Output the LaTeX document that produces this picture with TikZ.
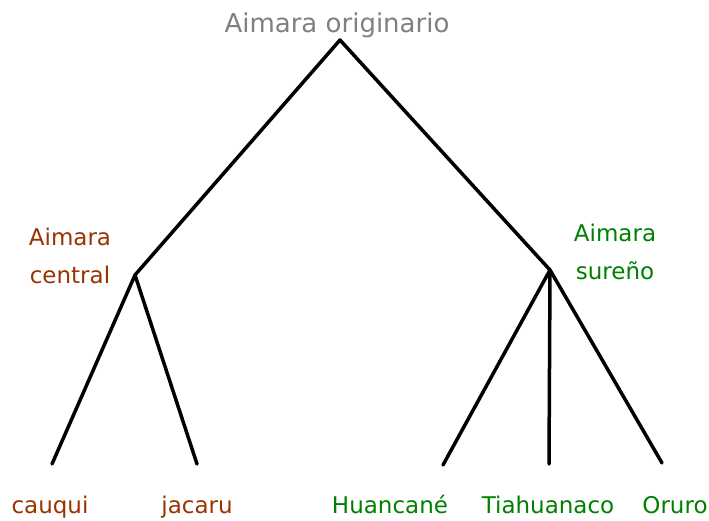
\documentclass[tikz,border=0pt]{standalone}
\usepackage{fontspec}
\setmainfont{DejaVu Sans}
\definecolor{lblgray}{RGB}{128,128,128}
\definecolor{lblbrown}{RGB}{153,51,0}
\definecolor{lblgreen}{RGB}{0,128,0}
\begin{document}
\begin{tikzpicture}[x=1pt,y=1pt,
  branch/.style={line width=3.5pt,black,line cap=round,line join=round},
  lbl/.style={inner sep=0pt,font=\fontsize{23}{38}\selectfont,align=center},
  leaflbl/.style={lbl,anchor=base}]
\useasboundingbox (0,0) rectangle (709,520);
% junctions and leaf ends
\coordinate (root) at (340,480);
\coordinate (central) at (135,245);
\coordinate (sur) at (550,250);
\coordinate (e1) at (52,56);
\coordinate (e2) at (197,56);
\coordinate (e3) at (443,55);
\coordinate (e4) at (549,56);
\coordinate (e5) at (662,57);
% labels
\node[lbl,text=lblgray,font=\fontsize{26}{30}\selectfont] (tRoot) at (337,495) {Aimara originario};
\node[lbl,text=lblbrown] (tCentral) at (70,264) {Aimara\\central};
\node[lbl,text=lblgreen] (tSur) at (615,268) {Aimara\\sureño};
\node[leaflbl,text=lblbrown] (tCauqui) at (50,7) {cauqui};
\node[leaflbl,text=lblbrown] (tJacaru) at (197,7) {jacaru};
\node[leaflbl,text=lblgreen] (tHuancane) at (390,7) {Huancané};
\node[leaflbl,text=lblgreen] (tTiahuanaco) at (548,7) {Tiahuanaco};
\node[leaflbl,text=lblgreen] (tOruro) at (675,7) {Oruro};
% branches
\draw[branch] (central) -- (root) -- (sur);
\draw[branch] (e1) -- (central) -- (e2);
\draw[branch] (e3) -- (sur) -- (e5);
\draw[branch] (sur) -- (e4);
\end{tikzpicture}
\end{document}
